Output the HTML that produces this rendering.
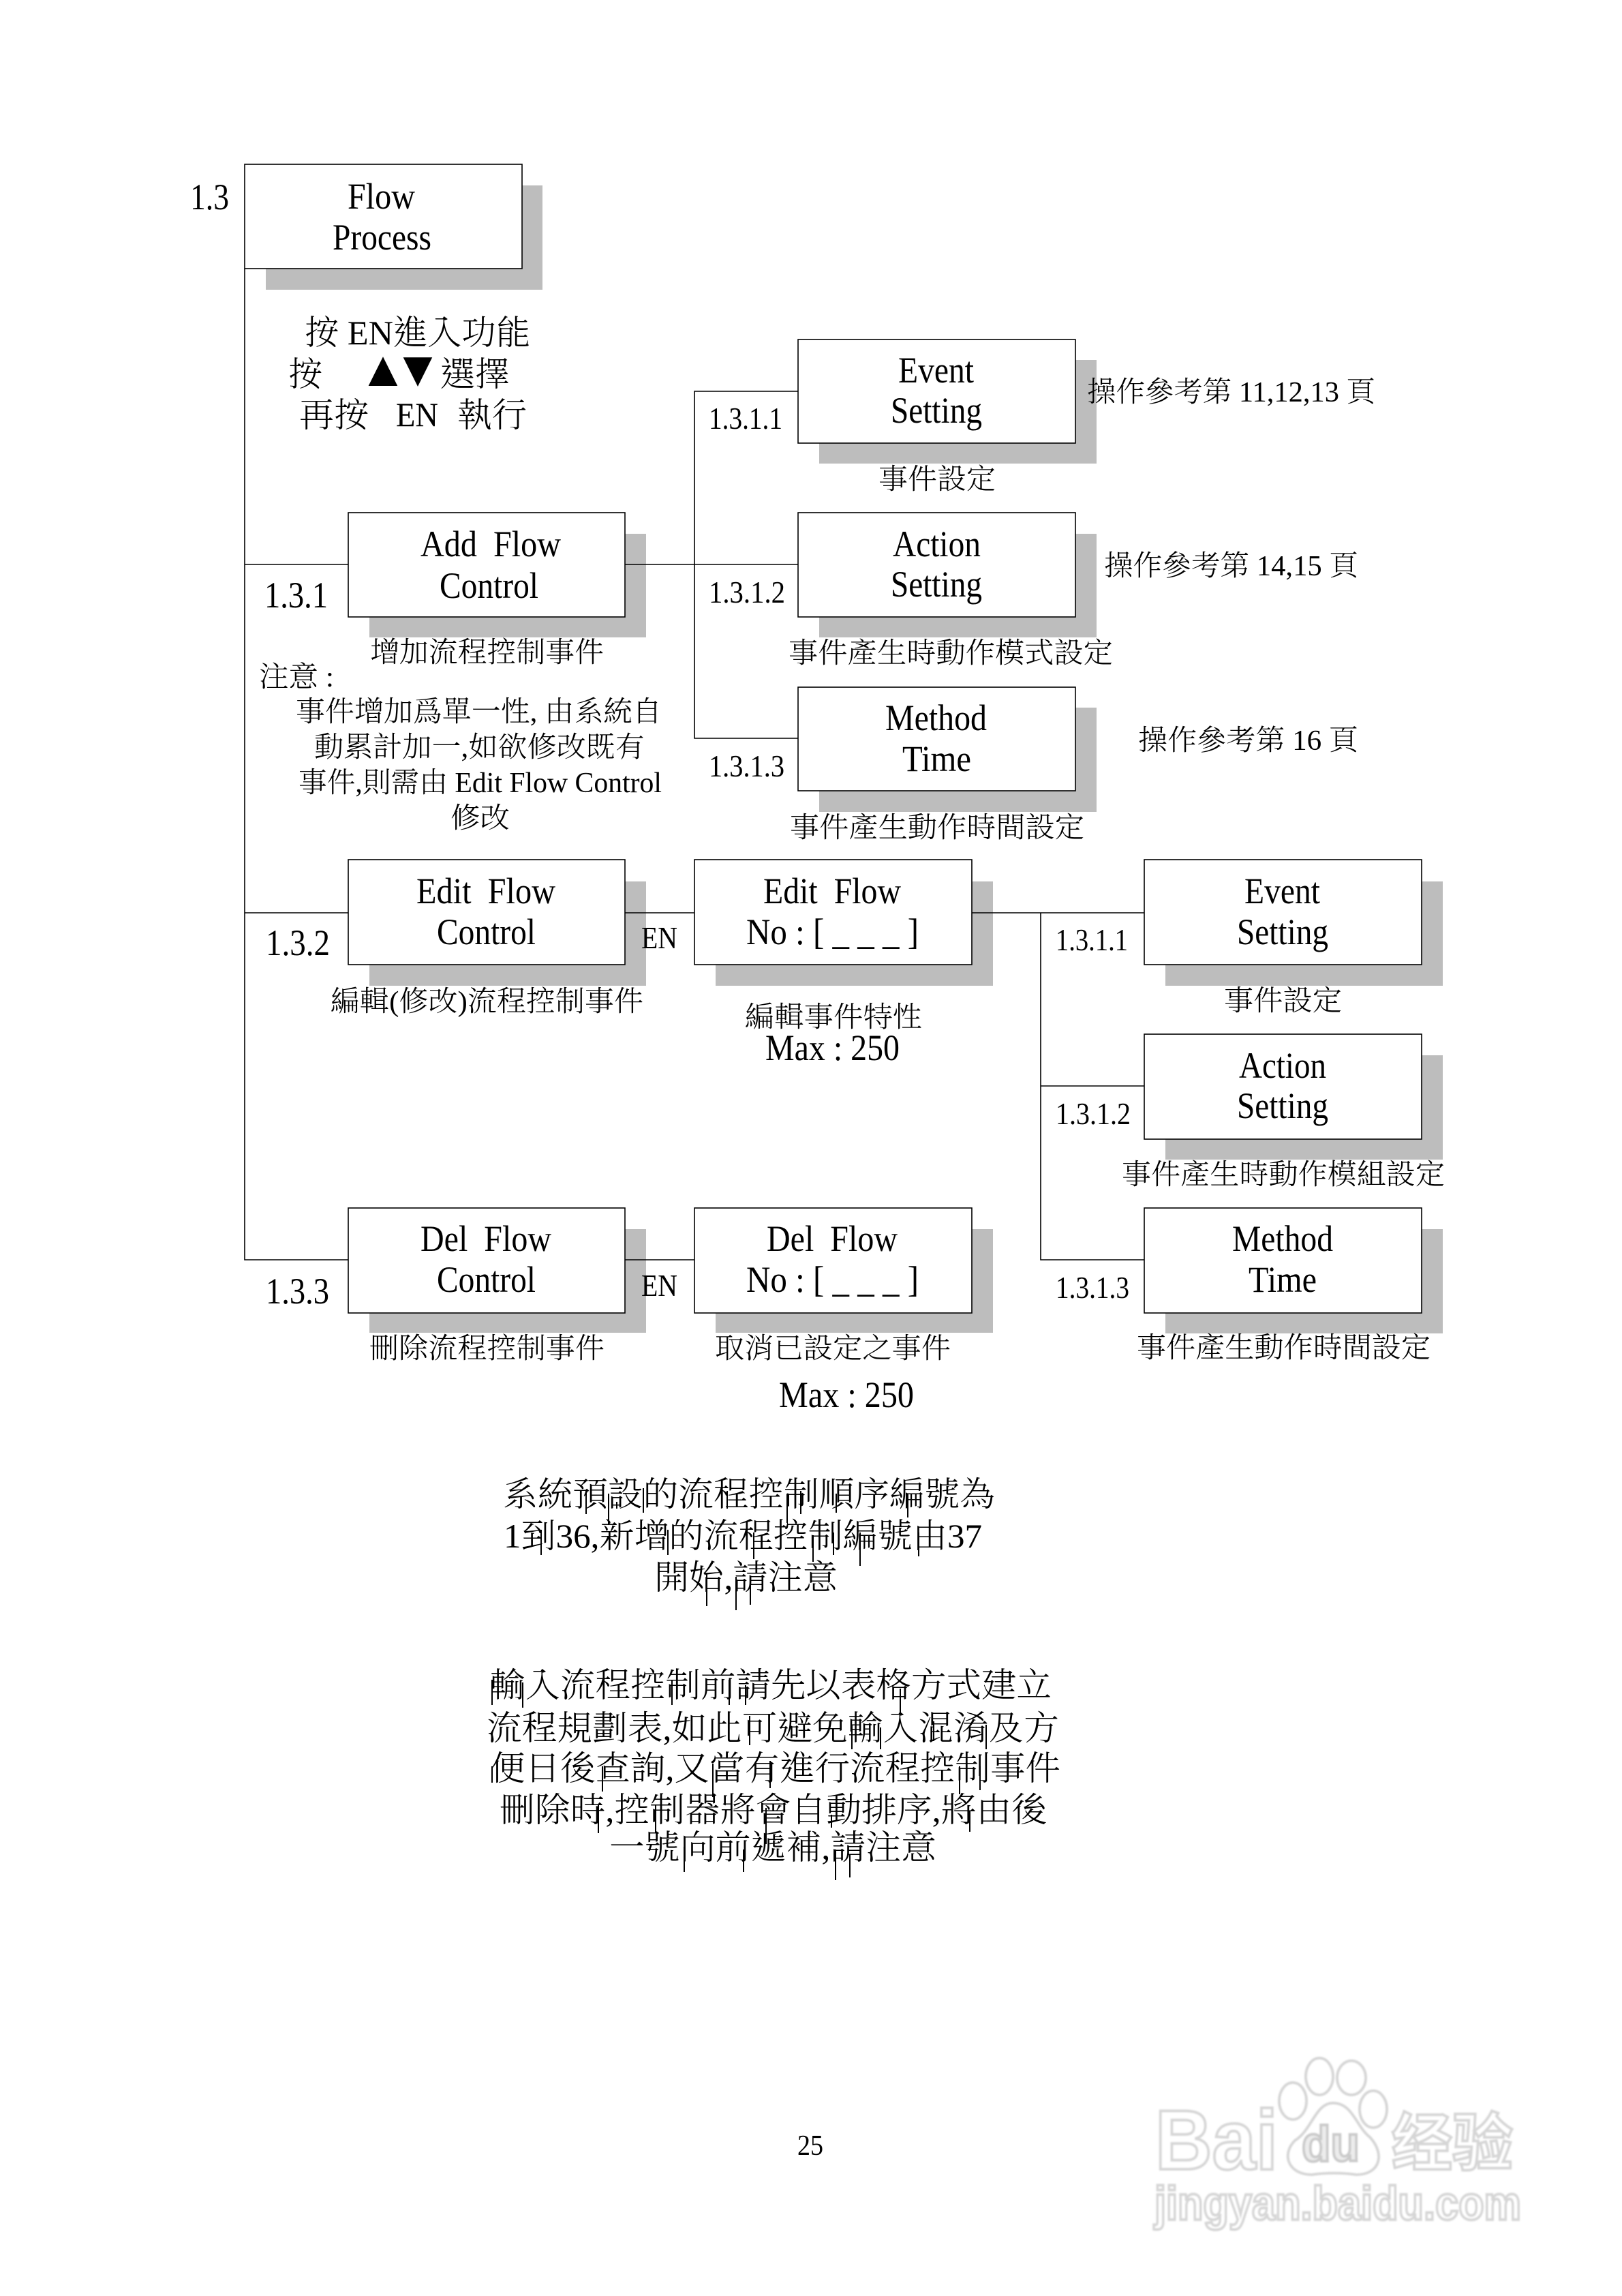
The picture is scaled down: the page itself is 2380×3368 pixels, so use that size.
<!DOCTYPE html>
<html lang="zh-Hant">
<head>
<meta charset="utf-8">
<title>Flow Process</title>
<style>
html,body{margin:0;padding:0;background:#fff;}
svg{display:block;}
text{font-family:"Liberation Serif","Noto Serif CJK SC",serif;fill:#000;font-weight:300;}
.n{font-size:54px;}
.s{font-size:46px;}
.c{font-size:42px;}
.b{font-size:50px;}
.k{fill:#bdbdbd;}
.w text{font-family:"Liberation Sans","Noto Sans CJK SC",sans-serif;font-weight:700;fill:#fff;stroke:#d6d6d6;stroke-width:4px;}
</style>
</head>
<body>
<svg xmlns="http://www.w3.org/2000/svg" width="2380" height="3368" viewBox="0 0 2380 3368">
<defs><filter id="bl" x="-5%" y="-5%" width="110%" height="110%"><feGaussianBlur stdDeviation="1.1"/></filter></defs>
<rect width="2380" height="3368" fill="#fff"/>

<!-- shadows -->
<g class="k">
<rect x="390" y="272" width="406" height="153"/>
<rect x="542" y="783" width="406" height="152"/>
<rect x="542" y="1293" width="406" height="153"/>
<rect x="542" y="1803" width="406" height="152"/>
<rect x="1202" y="528" width="407" height="152"/>
<rect x="1202" y="783" width="407" height="152"/>
<rect x="1202" y="1038" width="407" height="153"/>
<rect x="1050" y="1293" width="407" height="153"/>
<rect x="1050" y="1803" width="407" height="152"/>
<rect x="1710" y="1293" width="407" height="153"/>
<rect x="1710" y="1548" width="407" height="153"/>
<rect x="1710" y="1803" width="407" height="153"/>
</g>

<!-- connectors -->
<g fill="none" stroke="#000" stroke-width="1.6">
<path d="M359 394V1848H511"/>
<path d="M359 828H511"/>
<path d="M359 1339H511"/>
<path d="M917 828H1171"/>
<path d="M1171 574H1019V1083H1171"/>
<path d="M917 1339H1019"/>
<path d="M917 1848H1019"/>
<path d="M1426 1339H1679"/>
<path d="M1527 1339V1848H1679"/>
<path d="M1527 1593H1679"/>
</g>

<!-- boxes -->
<g fill="#fff" stroke="#000" stroke-width="1.6">
<rect x="359" y="241" width="407" height="153"/>
<rect x="511" y="752" width="406" height="153"/>
<rect x="511" y="1261" width="406" height="154"/>
<rect x="511" y="1772" width="406" height="154"/>
<rect x="1171" y="498" width="407" height="152"/>
<rect x="1171" y="752" width="407" height="153"/>
<rect x="1171" y="1008" width="407" height="152"/>
<rect x="1019" y="1261" width="407" height="154"/>
<rect x="1019" y="1772" width="407" height="154"/>
<rect x="1679" y="1261" width="407" height="154"/>
<rect x="1679" y="1517" width="407" height="154"/>
<rect x="1679" y="1772" width="407" height="154"/>
</g>

<!-- main tree -->
<text class="n" x="279" y="307" textLength="57" lengthAdjust="spacingAndGlyphs">1.3</text>
<text class="n" x="510" y="306" textLength="99" lengthAdjust="spacingAndGlyphs">Flow</text>
<text class="n" x="488" y="366" textLength="145" lengthAdjust="spacingAndGlyphs">Process</text>

<text class="b" x="447" y="505" textLength="331" lengthAdjust="spacingAndGlyphs">按 EN進入功能</text>
<text class="b" x="423" y="566" textLength="50" lengthAdjust="spacingAndGlyphs">按</text>
<text x="526" y="566" style="font-family:'DejaVu Sans',sans-serif;font-size:73px;" textLength="72" lengthAdjust="spacingAndGlyphs">▲</text>
<text x="577" y="566" style="font-family:'DejaVu Sans',sans-serif;font-size:73px;" textLength="72" lengthAdjust="spacingAndGlyphs">▼</text>
<text class="b" x="646" y="566" textLength="102" lengthAdjust="spacingAndGlyphs">選擇</text>
<text class="b" x="439" y="626" textLength="102" lengthAdjust="spacingAndGlyphs">再按</text>
<text class="b" x="581" y="625" textLength="62" lengthAdjust="spacingAndGlyphs">EN</text>
<text class="b" x="671" y="626" textLength="102" lengthAdjust="spacingAndGlyphs">執行</text>

<text class="n" x="617" y="816" textLength="206" lengthAdjust="spacingAndGlyphs">Add&#160;&#160;Flow</text>
<text class="n" x="645" y="877" textLength="145" lengthAdjust="spacingAndGlyphs">Control</text>
<text class="n" x="388" y="891" textLength="93" lengthAdjust="spacingAndGlyphs">1.3.1</text>
<text class="c" x="543" y="971" textLength="343" lengthAdjust="spacingAndGlyphs">增加流程控制事件</text>
<text class="c" x="380" y="1007" textLength="110" lengthAdjust="spacingAndGlyphs">注意 :</text>
<text class="c" x="434" y="1058" textLength="537" lengthAdjust="spacingAndGlyphs">事件增加爲單一性, 由系統自</text>
<text class="c" x="461" y="1110" textLength="485" lengthAdjust="spacingAndGlyphs">動累計加一,如欲修改既有</text>
<text class="c" x="438" y="1162" textLength="533" lengthAdjust="spacingAndGlyphs">事件,則需由 Edit Flow Control</text>
<text class="c" x="661" y="1214" textLength="87" lengthAdjust="spacingAndGlyphs">修改</text>

<text class="n" x="611" y="1325" textLength="204" lengthAdjust="spacingAndGlyphs">Edit&#160;&#160;Flow</text>
<text class="n" x="641" y="1385" textLength="145" lengthAdjust="spacingAndGlyphs">Control</text>
<text class="n" x="390" y="1401" textLength="94" lengthAdjust="spacingAndGlyphs">1.3.2</text>
<text class="s" x="941" y="1391" textLength="53" lengthAdjust="spacingAndGlyphs">EN</text>
<text class="c" x="485" y="1483" textLength="459" lengthAdjust="spacingAndGlyphs">編輯(修改)流程控制事件</text>

<text class="n" x="617" y="1835" textLength="192" lengthAdjust="spacingAndGlyphs">Del&#160;&#160;Flow</text>
<text class="n" x="641" y="1895" textLength="145" lengthAdjust="spacingAndGlyphs">Control</text>
<text class="n" x="390" y="1912" textLength="93" lengthAdjust="spacingAndGlyphs">1.3.3</text>
<text class="s" x="941" y="1901" textLength="53" lengthAdjust="spacingAndGlyphs">EN</text>
<text class="c" x="542" y="1992" textLength="345" lengthAdjust="spacingAndGlyphs">刪除流程控制事件</text>

<!-- 1.3.1.x upper -->
<text class="n" x="1318" y="561" textLength="111" lengthAdjust="spacingAndGlyphs">Event</text>
<text class="n" x="1307" y="620" textLength="134" lengthAdjust="spacingAndGlyphs">Setting</text>
<text class="s" x="1040" y="629" textLength="108" lengthAdjust="spacingAndGlyphs">1.3.1.1</text>
<text class="c" x="1289" y="717" textLength="172" lengthAdjust="spacingAndGlyphs">事件設定</text>
<text class="c" x="1595" y="589" textLength="423" lengthAdjust="spacingAndGlyphs">操作參考第 11,12,13 頁</text>

<text class="n" x="1310" y="816" textLength="129" lengthAdjust="spacingAndGlyphs">Action</text>
<text class="n" x="1307" y="875" textLength="134" lengthAdjust="spacingAndGlyphs">Setting</text>
<text class="s" x="1040" y="884" textLength="112" lengthAdjust="spacingAndGlyphs">1.3.1.2</text>
<text class="c" x="1157" y="972" textLength="476" lengthAdjust="spacingAndGlyphs">事件產生時動作模式設定</text>
<text class="c" x="1620" y="844" textLength="373" lengthAdjust="spacingAndGlyphs">操作參考第 14,15 頁</text>

<text class="n" x="1299" y="1071" textLength="149" lengthAdjust="spacingAndGlyphs">Method</text>
<text class="n" x="1324" y="1131" textLength="101" lengthAdjust="spacingAndGlyphs">Time</text>
<text class="s" x="1040" y="1139" textLength="111" lengthAdjust="spacingAndGlyphs">1.3.1.3</text>
<text class="c" x="1159" y="1228" textLength="432" lengthAdjust="spacingAndGlyphs">事件產生動作時間設定</text>
<text class="c" x="1670" y="1100" textLength="323" lengthAdjust="spacingAndGlyphs">操作參考第 16 頁</text>

<!-- middle -->
<text class="n" x="1120" y="1325" textLength="202" lengthAdjust="spacingAndGlyphs">Edit&#160;&#160;Flow</text>
<text class="n" x="1095" y="1385" textLength="253" lengthAdjust="spacingAndGlyphs">No : [ _ _ _ ]</text>
<text class="c" x="1093" y="1506" textLength="260" lengthAdjust="spacingAndGlyphs">編輯事件特性</text>
<text class="n" x="1123" y="1555" textLength="197" lengthAdjust="spacingAndGlyphs">Max : 250</text>

<text class="n" x="1125" y="1835" textLength="192" lengthAdjust="spacingAndGlyphs">Del&#160;&#160;Flow</text>
<text class="n" x="1095" y="1895" textLength="253" lengthAdjust="spacingAndGlyphs">No : [ _ _ _ ]</text>
<text class="c" x="1049" y="1992" textLength="346" lengthAdjust="spacingAndGlyphs">取消已設定之事件</text>
<text class="n" x="1143" y="2064" textLength="198" lengthAdjust="spacingAndGlyphs">Max : 250</text>

<!-- right column -->
<text class="n" x="1826" y="1325" textLength="111" lengthAdjust="spacingAndGlyphs">Event</text>
<text class="n" x="1815" y="1385" textLength="134" lengthAdjust="spacingAndGlyphs">Setting</text>
<text class="s" x="1549" y="1394" textLength="106" lengthAdjust="spacingAndGlyphs">1.3.1.1</text>
<text class="c" x="1796" y="1482" textLength="173" lengthAdjust="spacingAndGlyphs">事件設定</text>

<text class="n" x="1818" y="1581" textLength="128" lengthAdjust="spacingAndGlyphs">Action</text>
<text class="n" x="1815" y="1640" textLength="134" lengthAdjust="spacingAndGlyphs">Setting</text>
<text class="s" x="1549" y="1649" textLength="110" lengthAdjust="spacingAndGlyphs">1.3.1.2</text>
<text class="c" x="1646" y="1737" textLength="474" lengthAdjust="spacingAndGlyphs">事件產生時動作模組設定</text>

<text class="n" x="1808" y="1835" textLength="148" lengthAdjust="spacingAndGlyphs">Method</text>
<text class="n" x="1832" y="1895" textLength="100" lengthAdjust="spacingAndGlyphs">Time</text>
<text class="s" x="1549" y="1904" textLength="108" lengthAdjust="spacingAndGlyphs">1.3.1.3</text>
<text class="c" x="1668" y="1991" textLength="431" lengthAdjust="spacingAndGlyphs">事件產生動作時間設定</text>

<!-- glitched paragraphs -->
<text class="b" x="737" y="2209" textLength="723" lengthAdjust="spacingAndGlyphs">系統預設的流程控制順序編號為</text>
<text class="b" x="739" y="2270" textLength="702" lengthAdjust="spacingAndGlyphs">1到36,新增的流程控制編號由37</text>
<text class="b" x="960" y="2331" textLength="269" lengthAdjust="spacingAndGlyphs">開始,請注意</text>

<text class="b" x="719" y="2489" textLength="824" lengthAdjust="spacingAndGlyphs">輸入流程控制前請先以表格方式建立</text>
<text class="b" x="714" y="2552" textLength="840" lengthAdjust="spacingAndGlyphs">流程規劃表,如此可避免輸入混淆及方</text>
<text class="b" x="719" y="2611" textLength="837" lengthAdjust="spacingAndGlyphs">便日後查詢,又當有進行流程控制事件</text>
<text class="b" x="733" y="2672" textLength="803" lengthAdjust="spacingAndGlyphs">刪除時,控制器將會自動排序,將由後</text>
<text class="b" x="894" y="2727" textLength="480" lengthAdjust="spacingAndGlyphs">一號向前遞補,請注意</text>

<!-- long stem artifacts -->
<g stroke="#000" stroke-width="2" fill="none">
<path d="M860 2187V2221M893 2191V2236M905 2203V2213M944 2183V2219M1067 2187V2213M1155 2191V2234M1175 2187V2221M1227 2191V2219M1332 2191V2226"/>
<path d="M794 2244V2281M980 2244V2281M1106 2248V2287M1193 2252V2291M1223 2248V2281M1262 2248V2297M1348 2248V2283"/>
<path d="M1037 2309V2356M1080 2313V2362M1101 2313V2354"/>
<path d="M722 2464V2501M767 2468V2505M986 2464V2501M1070 2464V2501M1094 2472V2501M1321 2477V2515"/>
<path d="M1100 2517V2560M1250 2530V2566M1292 2534V2566M1370 2525V2554M1447 2530V2566"/>
<path d="M884 2591V2628M722 2591V2615M1046 2587V2636M1130 2583V2623M1408 2591V2632M1438 2591V2626"/>
<path d="M878 2648V2689M962 2648V2689M1124 2652V2705M1220 2662V2681M1423 2656V2687"/>
<path d="M1004 2709V2746M1091 2713V2746M1226 2713V2758M1247 2721V2754"/>
</g>

<text x="1170" y="3161" style="font-size:42px;" textLength="38" lengthAdjust="spacingAndGlyphs">25</text>

<!-- watermark -->
<g class="w" filter="url(#bl)">
<text x="1695" y="3182" style="font-size:124px;" textLength="180" lengthAdjust="spacingAndGlyphs">Bai</text>
<g fill="#fff" stroke="#d6d6d6" stroke-width="4">
<ellipse cx="1897" cy="3082" rx="20" ry="27"/>
<ellipse cx="1936" cy="3046" rx="20" ry="27"/>
<ellipse cx="1983" cy="3048" rx="21" ry="25"/>
<ellipse cx="2015" cy="3094" rx="20" ry="27"/>
<path d="M1956 3085C1930 3085 1925 3125 1900 3140C1880 3160 1890 3190 1925 3190C1945 3187 1970 3187 1990 3190C2025 3190 2033 3160 2010 3135C1990 3120 1985 3085 1956 3085Z"/>
</g>
<text x="1910" y="3170" style="font-size:73px;stroke:#cacaca;fill:#ececec;" textLength="85" lengthAdjust="spacingAndGlyphs">du</text>
<text x="2042" y="3176" style="font-size:92px;" textLength="178" lengthAdjust="spacingAndGlyphs">经验</text>
<text x="1694" y="3256" style="font-size:70px;" textLength="538" lengthAdjust="spacingAndGlyphs">jingyan.baidu.com</text>
</g>
</svg>
</body>
</html>
